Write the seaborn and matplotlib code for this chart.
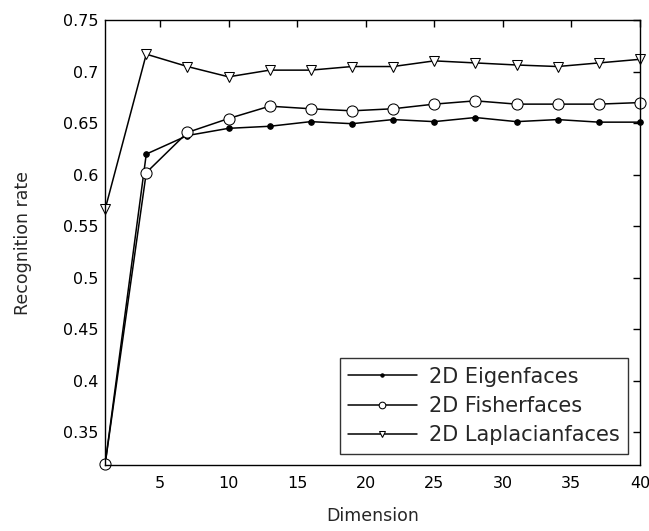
import matplotlib
matplotlib.use("Agg")
import matplotlib.pyplot as plt
import seaborn as sns
import pandas as pd

dims = [1, 4, 7, 10, 13, 16, 19, 22, 25, 28, 31, 34, 37, 40]
eigen = [0.319, 0.620, 0.638, 0.645, 0.647, 0.6515, 0.6495, 0.6535, 0.6515, 0.6555, 0.6515, 0.6535, 0.651, 0.651]
fisher = [0.319, 0.602, 0.641, 0.6545, 0.6665, 0.664, 0.662, 0.664, 0.6685, 0.6717, 0.6685, 0.6685, 0.6685, 0.670]
laplacian = [0.5665, 0.717, 0.705, 0.695, 0.7015, 0.7015, 0.705, 0.705, 0.7105, 0.7085, 0.7065, 0.705, 0.7085, 0.712]
series_names = ["2D Eigenfaces", "2D Fisherfaces", "2D Laplacianfaces"]
yticks = [0.35, 0.4, 0.45, 0.5, 0.55, 0.6, 0.65, 0.7, 0.75]
xticks = [5, 10, 15, 20, 25, 30, 35, 40]

df = pd.concat([
    pd.DataFrame({"Dimension": dims, "rate": v, "method": n})
    for v, n in zip([eigen, fisher, laplacian], series_names)
])

sns.set_style("white")
plt.rcParams["font.family"] = ["DejaVu Sans"]

fig = plt.figure(figsize=(6.49, 5.31), dpi=100)
ax = fig.add_axes([0.162, 0.124, 0.824, 0.838])

styles = {
    "2D Eigenfaces": dict(marker="o", ms=4, mfc="black", mec="black"),
    "2D Fisherfaces": dict(marker="o", ms=8, mfc="white", mec="black"),
    "2D Laplacianfaces": dict(marker="v", ms=7, mfc="white", mec="black"),
}
for name in series_names:
    sub = df[df["method"] == name]
    sns.lineplot(data=sub, x="Dimension", y="rate", ax=ax, color="black",
                 lw=1.1, label=name, clip_on=False, **styles[name])

ax.set_xlim(1, 40)
ax.set_ylim(0.318, 0.75)
ax.set_xticks(xticks)
ax.set_yticks(yticks)
ax.set_yticklabels([f"{t:g}" for t in yticks])
ax.tick_params(direction="in", length=5, top=True, right=True, labelsize=11.5, colors="black", width=1)
ax.tick_params(axis="x", pad=7.5)
ax.tick_params(axis="y", pad=5)
for s in ax.spines.values():
    s.set_color("black")
    s.set_linewidth(1)
ax.set_xlabel("Dimension", fontsize=12.5, labelpad=12)
ax.set_ylabel("Recognition rate", fontsize=12.5, labelpad=22)

leg = ax.legend(loc="lower right", fontsize=15, frameon=True, fancybox=False,
                edgecolor="black", borderaxespad=0.55, handlelength=3.3,
                handletextpad=0.6, labelspacing=0.45, borderpad=0.4, markerscale=0.6)
leg.get_frame().set_linewidth(1)

fig.savefig("out.png", dpi=100)
